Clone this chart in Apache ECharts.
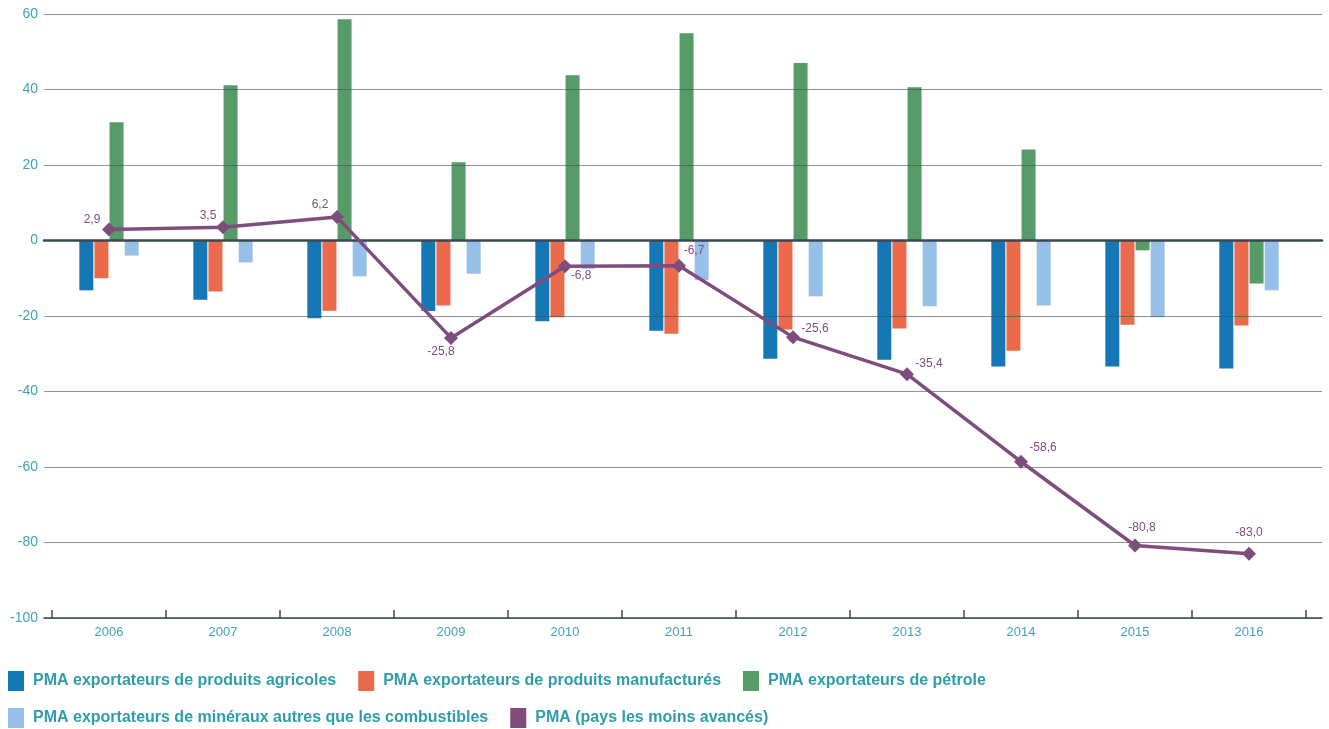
<!DOCTYPE html>
<html>
<head>
<meta charset="utf-8">
<script src="https://cdn.jsdelivr.net/npm/echarts@6/dist/echarts.min.js"></script>
<style>
  html, body { margin: 0; padding: 0; background: #ffffff; }
  #chart { width: 1329px; height: 729px; }
</style>
</head>
<body>
<div id="chart"></div>
<script>
// Years on the category axis
const years = ['2006', '2007', '2008', '2009', '2010', '2011', '2012', '2013', '2014', '2015', '2016'];

// Series names
const nameAgri = 'PMA exportateurs de produits agricoles';
const nameManu = 'PMA exportateurs de produits manufacturés';
const namePetrole = 'PMA exportateurs de pétrole';
const nameMineraux = 'PMA exportateurs de minéraux autres que les combustibles';
const namePMA = 'PMA (pays les moins avancés)';

// Values per series
const agricoles = [-13.2, -15.7, -20.6, -18.7, -21.4, -23.9, -31.3, -31.6, -33.4, -33.4, -33.9];
const manufactures = [-10.0, -13.5, -18.6, -17.2, -20.3, -24.7, -23.6, -23.3, -29.2, -22.3, -22.5];
const petrole = [31.3, 41.1, 58.6, 20.7, 43.8, 54.9, 47.0, 40.6, 24.1, -2.6, -11.4];
const mineraux = [-4.0, -5.8, -9.5, -8.8, -7.5, -10.5, -14.8, -17.4, -17.2, -20.3, -13.2];
const pma = [2.9, 3.5, 6.2, -25.8, -6.8, -6.7, -25.6, -35.4, -58.6, -80.8, -83.0];

// Value axis ticks
const yMin = -100, yMax = 60, yStep = 20;

// Label placement around each PMA marker (pixel offsets)
const labelOffsets = [[-17, -10], [-15, -12], [-17, -12], [-10, 14], [16, 10], [15, -15],
                      [22, -8], [22, -10], [22, -14], [7, -18], [0, -21]];

const teal = '#3ea3b4';
const legendTeal = '#2f9dab';
const purple = '#7f4d7d';
const font = '"Liberation Sans", Arial, Helvetica, sans-serif';

const chart = echarts.init(document.getElementById('chart'), null, { renderer: 'canvas' });

const fmt = v => v.toFixed(1).replace('.', ',');

const pmaData = pma.map((v, i) => ({
  value: v,
  label: { offset: labelOffsets[i] }
}));

const barSeries = (name, data, color) => ({
  name, type: 'bar', data,
  xAxisIndex: 2, yAxisIndex: 1,
  barWidth: 14, barGap: '8%',
  itemStyle: { color },
  z: 2
});

const legendText = { color: legendTeal, fontSize: 16, fontWeight: 'bold', fontFamily: font, padding: [0, 0, 0, 4] };

chart.setOption({
  animation: false,
  backgroundColor: '#ffffff',
  textStyle: { fontFamily: font },
  grid: [
    { left: 44, right: 7, top: 14, bottom: 111 },
    { left: 52, right: 23, top: 14, bottom: 111 }
  ],
  xAxis: [
    { // bottom baseline across the full width
      type: 'category', gridIndex: 0, data: years, position: 'bottom',
      axisLine: { onZero: false, lineStyle: { color: '#3b4850', width: 1.5 } },
      axisTick: { show: false }, axisLabel: { show: false }, z: 4
    },
    { // zero line
      type: 'category', gridIndex: 0, data: years, position: 'top',
      axisLine: { onZero: true, lineStyle: { color: '#3b4850', width: 2.5 } },
      axisTick: { show: false }, axisLabel: { show: false }, z: 4
    },
    { // year labels and boundary ticks
      type: 'category', gridIndex: 1, data: years, position: 'bottom',
      axisLine: { show: false, onZero: false },
      axisTick: { show: true, inside: true, length: 8, lineStyle: { color: '#3b4850', width: 1.5 } },
      axisLabel: { color: teal, fontSize: 13, margin: 8, fontFamily: font },
      z: 4
    }
  ],
  yAxis: [
    {
      type: 'value', gridIndex: 0, min: yMin, max: yMax, interval: yStep,
      axisLine: { show: false }, axisTick: { show: false },
      axisLabel: { color: teal, fontSize: 14, margin: 6, fontFamily: font },
      splitLine: { lineStyle: { color: 'rgba(70,82,90,0.62)', width: 1.2 } },
      z: 3
    },
    {
      type: 'value', gridIndex: 1, min: yMin, max: yMax, interval: yStep,
      show: false, splitLine: { show: false }
    }
  ],
  legend: [
    {
      left: 8, top: 671, padding: 0, itemWidth: 16, itemHeight: 20, itemGap: 22, icon: 'rect',
      data: [nameAgri, nameManu, namePetrole],
      textStyle: legendText
    },
    {
      left: 8, top: 708, padding: 0, itemWidth: 16, itemHeight: 20, itemGap: 22, icon: 'rect',
      data: [nameMineraux, namePMA],
      textStyle: legendText
    }
  ],
  series: [
    barSeries(nameAgri, agricoles, '#1577b4'),
    barSeries(nameManu, manufactures, '#eb6a4b'),
    barSeries(namePetrole, petrole, '#579b69'),
    barSeries(nameMineraux, mineraux, '#97c0e8'),
    {
      name: namePMA, type: 'line', data: pmaData,
      xAxisIndex: 2, yAxisIndex: 1,
      symbol: 'diamond', symbolSize: 14, showAllSymbol: true,
      lineStyle: { color: purple, width: 3.5 },
      itemStyle: { color: purple },
      label: {
        show: true, position: 'inside', color: purple, fontSize: 12, fontFamily: font,
        align: 'center', verticalAlign: 'middle',
        formatter: p => fmt(p.value)
      },
      z: 6
    }
  ]
});
</script>
</body>
</html>
